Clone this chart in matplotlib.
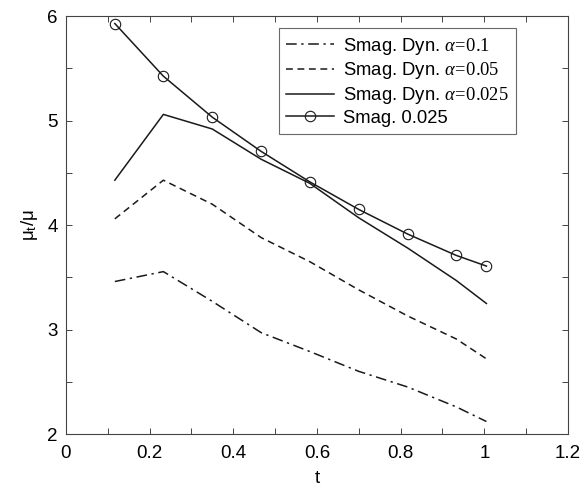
import matplotlib
matplotlib.use("Agg")
import matplotlib.pyplot as plt
from matplotlib.ticker import MultipleLocator

plt.rcParams['font.family'] = ['Liberation Sans', 'DejaVu Sans']
plt.rcParams['mathtext.fontset'] = 'custom'
plt.rcParams['mathtext.rm'] = 'Liberation Serif'
plt.rcParams['mathtext.it'] = 'Liberation Serif:italic'
plt.rcParams['mathtext.sf'] = 'Liberation Sans'

t = [0.117, 0.233, 0.35, 0.467, 0.583, 0.7, 0.817, 0.933, 1.005]
dyn_01 = [3.46, 3.555, 3.27, 2.97, 2.79, 2.60, 2.45, 2.26, 2.12]
dyn_005 = [4.06, 4.43, 4.20, 3.88, 3.65, 3.38, 3.13, 2.91, 2.72]
dyn_0025 = [4.43, 5.06, 4.92, 4.63, 4.40, 4.07, 3.78, 3.47, 3.25]
smag_0025 = [5.93, 5.426, 5.033, 4.705, 4.414, 4.15, 3.914, 3.71, 3.608]

labels = [r'Smag. Dyn. $\alpha\!=\!\mathrm{0.1}$',
          r'Smag. Dyn. $\alpha\!=\!\mathrm{0.05}$',
          r'Smag. Dyn. $\alpha\!=\!\mathrm{0.025}$',
          'Smag. 0.025']

fig = plt.figure(figsize=(5.88, 4.91), dpi=100)
ax = fig.add_axes([0.112, 0.116, 0.854, 0.851])

lc = '#1a1a1a'
ax.plot(t, dyn_01, color=lc, lw=1.1, dashes=(7, 3, 1.5, 3), label=labels[0])
ax.plot(t, dyn_005, color=lc, lw=1.1, dashes=(4.5, 3), label=labels[1])
ax.plot(t, dyn_0025, color=lc, lw=1.1, ls='-', label=labels[2])
ax.plot(t, smag_0025, color=lc, lw=1.1, ls='-', marker='o', markersize=7.5,
        markerfacecolor='none', markeredgewidth=0.8, label=labels[3])

ax.set_xlim(0, 1.2)
ax.set_ylim(2, 6)
ax.xaxis.set_major_locator(MultipleLocator(0.2))
ax.xaxis.set_minor_locator(MultipleLocator(0.1))
ax.yaxis.set_major_locator(MultipleLocator(1))
ax.yaxis.set_minor_locator(MultipleLocator(0.5))
ax.set_xticks([0, 0.2, 0.4, 0.6, 0.8, 1.0, 1.2])
ax.set_xticklabels(['0', '0.2', '0.4', '0.6', '0.8', '1', '1.2'])
ax.tick_params(which='both', direction='in', top=True, right=True,
               length=4, width=0.7, color='#444444', labelsize=13.5)
ax.tick_params(axis='x', pad=8)
ax.tick_params(axis='y', pad=6)
for s in ax.spines.values():
    s.set_linewidth(0.8)
    s.set_color('#444444')

ax.set_xlabel('t', fontsize=13.5, labelpad=6)
ax.set_ylabel(r'μ$_\mathsf{t}$/μ', fontsize=13.5, labelpad=5)

leg = ax.legend(loc='upper right', bbox_to_anchor=(0.897, 0.971), fontsize=13.3,
                frameon=True, fancybox=False, edgecolor='#444444',
                handlelength=2.6, handletextpad=0.5, borderpad=0.4,
                labelspacing=0.2, borderaxespad=0)
leg.get_frame().set_linewidth(0.8)

fig.savefig('out.png', dpi=100)
